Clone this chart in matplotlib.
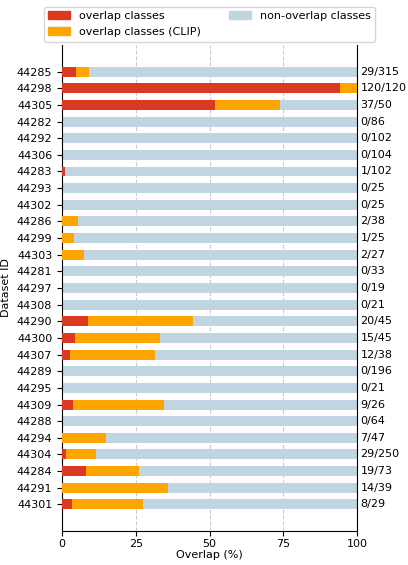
import matplotlib
matplotlib.use('Agg')
import matplotlib.pyplot as plt
import matplotlib.patches as mpatches
import numpy as np

plt.rcParams['font.size'] = 8

dataset_ids = ["44285", "44298", "44305", "44282", "44292", "44306", "44283",
               "44293", "44302", "44286", "44299", "44303", "44281", "44297",
               "44308", "44290", "44300", "44307", "44289", "44295", "44309",
               "44288", "44294", "44304", "44284", "44291", "44301"]
# overlapping classes (exact), overlapping classes incl. CLIP matches, total classes
n_overlap = [15, 113, 26, 0, 0, 0, 1, 0, 0, 0, 0, 0, 0, 0, 0, 4, 2, 1, 0, 0, 1,
             0, 0, 3, 6, 0, 1]
n_overlap_clip = [29, 120, 37, 0, 0, 0, 1, 0, 0, 2, 1, 2, 0, 0, 0, 20, 15, 12,
                  0, 0, 9, 0, 7, 29, 19, 14, 8]
n_total = [315, 120, 50, 86, 102, 104, 102, 25, 25, 38, 25, 27, 33, 19, 21, 45,
           45, 38, 196, 21, 26, 64, 47, 250, 73, 39, 29]

C_RED = "#dc3922"
C_ORANGE = "#ffa500"
C_BLUE = "#bfd5df"

n_overlap = np.array(n_overlap)
n_overlap_clip = np.array(n_overlap_clip)
n_total = np.array(n_total)
exact = n_overlap / n_total * 100
clip = n_overlap_clip / n_total * 100

fig = plt.figure(figsize=(4.08, 5.65), dpi=100)
ax = fig.add_axes([62/408, 1 - 531/565, 295/408, 486/565])

y = np.arange(len(dataset_ids))
h = 0.6
ax.barh(y, np.full(len(y), 100.0), h, color=C_BLUE, zorder=2)
ax.barh(y, clip, h, color=C_ORANGE, zorder=3)
ax.barh(y, exact, h, color=C_RED, zorder=4)

for yi, a, b in zip(y, n_overlap_clip, n_total):
    ax.text(101.2, yi, f"{a}/{b}", va='center', ha='left', fontsize=8)

ax.set_yticks(y)
ax.set_yticklabels(dataset_ids)
ax.set_ylim(len(y) + 0.6, -1.6)
ax.set_xlim(0, 100)
ax.set_xticks([0, 25, 50, 75, 100])
ax.tick_params(axis='x', pad=2)
ax.xaxis.grid(True, linestyle='--', color='#cccccc', linewidth=0.8, zorder=0)
ax.set_axisbelow(True)
ax.spines['top'].set_visible(False)
ax.set_xlabel("Overlap (%)", labelpad=1)
ax.set_ylabel("Dataset ID")

handles = [mpatches.Patch(color=C_RED, label="overlap classes"),
           mpatches.Patch(color=C_ORANGE, label="overlap classes (CLIP)"),
           mpatches.Patch(color=C_BLUE, label="non-overlap classes")]
ax.legend(handles=handles, ncol=2, loc='lower center',
          bbox_to_anchor=(0.5, 1.0), fontsize=8, columnspacing=2.5,
          labelspacing=0.55, borderaxespad=0.3)

plt.savefig("out.png", dpi=100)
plt.close()
